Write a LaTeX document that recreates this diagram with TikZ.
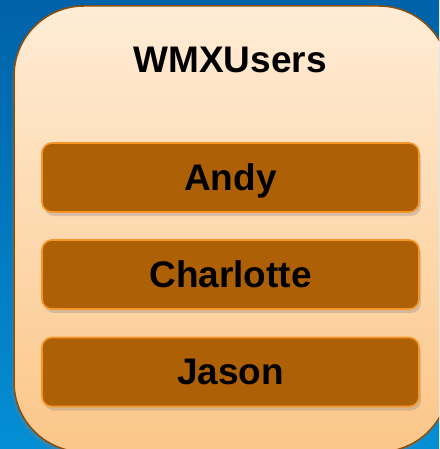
\documentclass[tikz,border=0pt]{standalone}
\usepackage{fontspec}
\setmainfont{Liberation Sans}
\usetikzlibrary{shadows}
\definecolor{bgtop}{RGB}{0,98,168}
\definecolor{bgbot}{RGB}{4,142,212}
\definecolor{grouptop}{RGB}{255,236,214}
\definecolor{groupbot}{RGB}{251,198,136}
\definecolor{groupline}{RGB}{140,78,10}
\definecolor{userfill}{RGB}{174,96,6}
\definecolor{userline}{RGB}{246,150,40}
\tikzset{
  user/.style={draw=userline,line width=1.6pt,fill=userfill,rounded corners=10pt,
    minimum width=377pt,minimum height=69pt,text height=27pt,text depth=0pt,
    drop shadow={opacity=0.3,shadow xshift=2pt,shadow yshift=-4pt}},
}
\begin{document}
\begin{tikzpicture}[x=1pt,y=-1pt,font=\bfseries\fontsize{37}{44}\selectfont]
\useasboundingbox(0,0)rectangle(439,449);
\clip(0,0)rectangle(439,449);
\shade[top color=bgtop,bottom color=bgbot](0,0)rectangle(439,449);
\shade[top color=grouptop,bottom color=groupbot,draw=groupline,line width=1.5pt,rounded corners=70pt,
  drop shadow={opacity=0.3,shadow xshift=-2pt,shadow yshift=-4pt}](14,6)rectangle(449,452);
\node[text height=27pt,text depth=0pt](title)at(230,59){WMXUsers};
\foreach \n/\y in {Andy/177.5,Charlotte/274.5,Jason/372}{\node[user,text height=25pt](\n)at(230.5,\y){\n};}
\end{tikzpicture}
\end{document}
